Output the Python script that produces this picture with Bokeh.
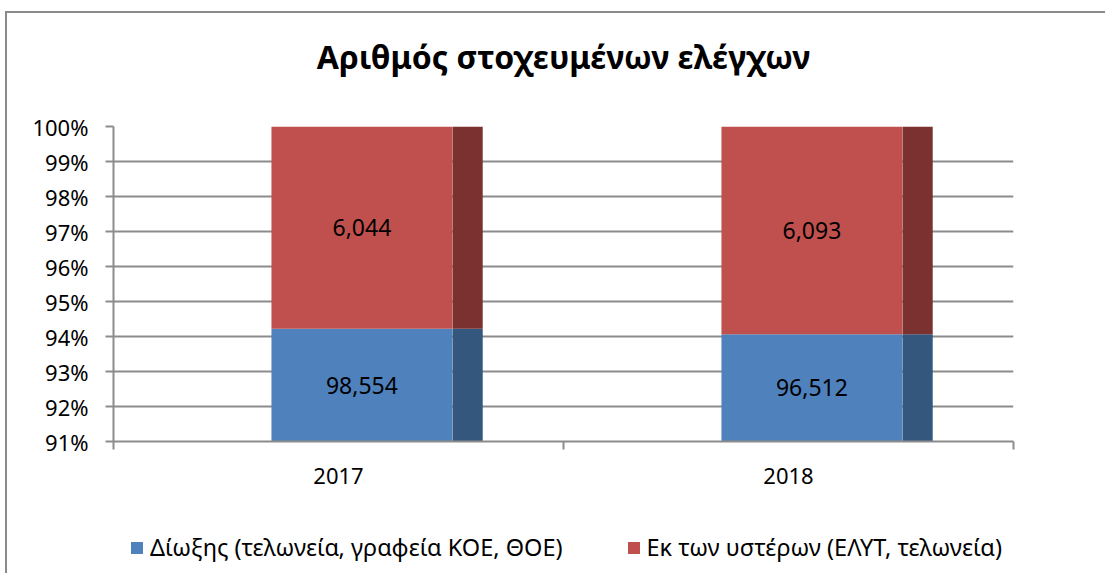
from bokeh.plotting import figure
from bokeh.layouts import column
from bokeh.models import (ColumnDataSource, FixedTicker, NumeralTickFormatter, LabelSet, Label,
                          Legend, LegendItem, Range1d)
from bokeh.core.properties import value
from bokeh.embed import file_html
from bokeh.resources import INLINE

# ---------------- data ----------------
years = ["2017", "2018"]
pursuit = [98554, 96512]          # Δίωξης
retro = [6044, 6093]              # Εκ των υστέρων
series_names = ["Δίωξης (τελωνεία, γραφεία ΚΟΕ, ΘΟΕ)", "Εκ των υστέρων (ΕΛΥΤ, τελωνεία)"]
y_ticks = [0.91, 0.92, 0.93, 0.94, 0.95, 0.96, 0.97, 0.98, 0.99, 1.00]
title_text = "Αριθμός στοχευμένων ελέγχων"

FONT = "Noto Sans"
GRAY = "#8c8c8c"
BLUE, BLUE_SIDE = "#4F81BD", "#34577E"
RED, RED_SIDE = "#C0504D", "#7B3130"
W = 1105

y_min, y_max = y_ticks[0], y_ticks[-1]
totals = [a + b for a, b in zip(pursuit, retro)]
share1 = [a / t for a, t in zip(pursuit, totals)]
xc = [i + 0.5 for i in range(len(years))]
front_off, front_w = 0.052, 0.402
side_off, side_w = 0.287, 0.067


def strip(height):
    f = figure(width=W, height=height, output_backend="svg", toolbar_location=None,
               x_range=Range1d(0, 1), y_range=Range1d(0, 1),
               min_border_left=0, min_border_right=0, min_border_top=0, min_border_bottom=0)
    f.frame_align = False
    f.axis.visible = False
    f.grid.visible = False
    f.outline_line_color = None
    f.background_fill_alpha = 0
    f.border_fill_alpha = 0
    return f


# ---- title strip ----
tf = strip(100)
tf.add_layout(Label(x=563, y=44, x_units="screen", y_units="screen", text=title_text,
                    text_align="center", text_baseline="alphabetic", text_font=FONT,
                    text_font_size="32px", text_font_style="bold", text_color="black"))

# ---- main chart ----
src = ColumnDataSource(dict(
    xf=[x + front_off for x in xc],
    xs=[x + side_off for x in xc],
    s1=share1,
    base=[0.0] * len(years),
    top=[1.0] * len(years),
))

p = figure(width=W, height=400, output_backend="svg", toolbar_location=None,
           x_range=Range1d(0, len(years)), y_range=Range1d(y_min, y_max),
           min_border_left=113, min_border_right=92, min_border_top=26, min_border_bottom=59)
p.frame_align = False
p.outline_line_color = None
p.background_fill_color = "white"
p.border_fill_alpha = 0

p.vbar(x="xf", width=front_w, bottom="base", top="s1", source=src, fill_color=BLUE, line_color=None)
p.vbar(x="xs", width=side_w, bottom="base", top="s1", source=src, fill_color=BLUE_SIDE, line_color=None)
p.vbar(x="xf", width=front_w, bottom="s1", top="top", source=src, fill_color=RED, line_color=None)
p.vbar(x="xs", width=side_w, bottom="s1", top="top", source=src, fill_color=RED_SIDE, line_color=None)

lab_src = ColumnDataSource(dict(
    x=[x + front_off for x in xc] * 2,
    y=[(max(0, y_min) + s) / 2 for s in share1] + [(s + 1.0) / 2 for s in share1],
    t=[f"{v:,}" for v in pursuit] + [f"{v:,}" for v in retro],
))
p.add_layout(LabelSet(x="x", y="y", text="t", source=lab_src, text_align="center",
                      text_baseline="middle", text_font=value(FONT), text_font_size="23px",
                      text_color="black"))

p.yaxis.ticker = FixedTicker(ticks=y_ticks)
p.yaxis.formatter = NumeralTickFormatter(format="0%")
p.yaxis.major_tick_out = 8
p.yaxis.major_tick_in = 0
p.yaxis.minor_tick_line_color = None
p.yaxis.axis_line_color = GRAY
p.yaxis.axis_line_width = 2
p.yaxis.major_tick_line_color = GRAY
p.yaxis.major_tick_line_width = 2
p.yaxis.major_label_text_font = FONT
p.yaxis.major_label_text_font_size = "22px"
p.yaxis.major_label_text_color = "black"
p.yaxis.major_label_standoff = 17

p.xaxis.ticker = FixedTicker(ticks=xc, minor_ticks=list(range(len(years) + 1)))
p.xaxis.major_label_overrides = {x: y for x, y in zip(xc, years)}
p.xaxis.major_tick_line_color = None
p.xaxis.major_tick_out = 0
p.xaxis.major_tick_in = 0
p.xaxis.minor_tick_out = 8
p.xaxis.minor_tick_in = 0
p.xaxis.minor_tick_line_color = GRAY
p.xaxis.minor_tick_line_width = 2
p.xaxis.axis_line_color = GRAY
p.xaxis.axis_line_width = 2
p.xaxis.major_label_text_font = FONT
p.xaxis.major_label_text_font_size = "22px"
p.xaxis.major_label_text_color = "black"
p.xaxis.major_label_standoff = 18

p.xgrid.grid_line_color = None
p.ygrid.grid_line_color = GRAY
p.ygrid.grid_line_width = 2

# ---- legend strip ----
lf = strip(73)
# legend swatch renderers: one off-range bar each, so only their legend glyph shows
r_blue = lf.vbar(x=[-5], bottom=[-5], top=[-4], width=0.1, fill_color=BLUE, line_color=None)
r_red = lf.vbar(x=[-5], bottom=[-5], top=[-4], width=0.1, fill_color=RED, line_color=None)
legend = Legend(items=[LegendItem(label=series_names[0], renderers=[r_blue]),
                       LegendItem(label=series_names[1], renderers=[r_red])],
                orientation="horizontal", location=(129, 10),
                padding=0, margin=0, spacing=63, label_standoff=6,
                glyph_width=15, glyph_height=15,
                border_line_color=None, background_fill_alpha=0,
                label_text_font=FONT, label_text_font_size="23.5px", label_text_color="black")
lf.add_layout(legend)

layout = column(tf, p, lf, spacing=0)
layout.styles = {
    "background": ("linear-gradient(#8a8a8a,#8a8a8a) 5px 11px / 2px 2000px no-repeat, "
                   "linear-gradient(#8a8a8a,#8a8a8a) 5px 11px / 2000px 2px no-repeat, white"),
}

open("out.html", "w").write(file_html(layout, INLINE))
